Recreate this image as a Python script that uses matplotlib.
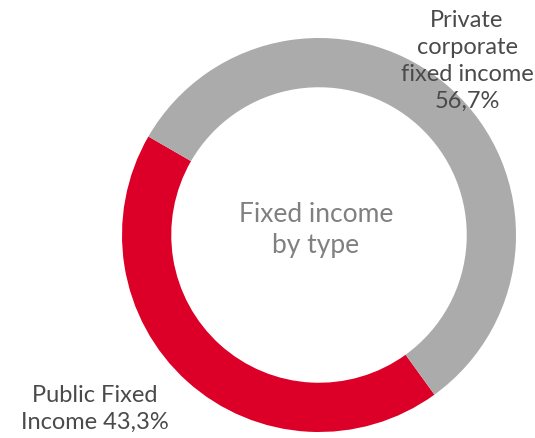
import matplotlib
matplotlib.use("Agg")
import matplotlib.pyplot as plt

categories = ["Public Fixed\nIncome 43,3%", "Private\ncorporate\nfixed income\n56,7%"]
values = [43.3, 56.7]
colors = ["#dc0028", "#ababab"]
center_label = "Fixed income\nby type"

W, H = 535, 438
fig = plt.figure(figsize=(W / 100, H / 100), dpi=100)
cx, cy, R = 319, 235, 197
ax = fig.add_axes([(cx - R) / W, (H - cy - R) / H, 2 * R / W, 2 * R / H])
ax.pie(values, colors=colors, startangle=150, counterclock=True, radius=1,
       wedgeprops=dict(width=0.25, linewidth=0))
ax.set_xlim(-1, 1)
ax.set_ylim(-1, 1)
ax.set_aspect("equal")
ax.axis("off")

font = dict(family=["Lato", "DejaVu Sans"], fontweight="normal", fontsize=17,
            color="#4a4a4a", ha="center", va="center", linespacing=1.36)
fig.text(467 / W, 1 - 61 / H, categories[1], **font)
fig.text(95 / W, 1 - 409 / H, categories[0], **font)
cfont = dict(font)
cfont.update(color="#808080", fontsize=19, linespacing=1.3)
fig.text(316 / W, 1 - 230 / H, center_label, **cfont)

fig.savefig("out.png", dpi=100)
